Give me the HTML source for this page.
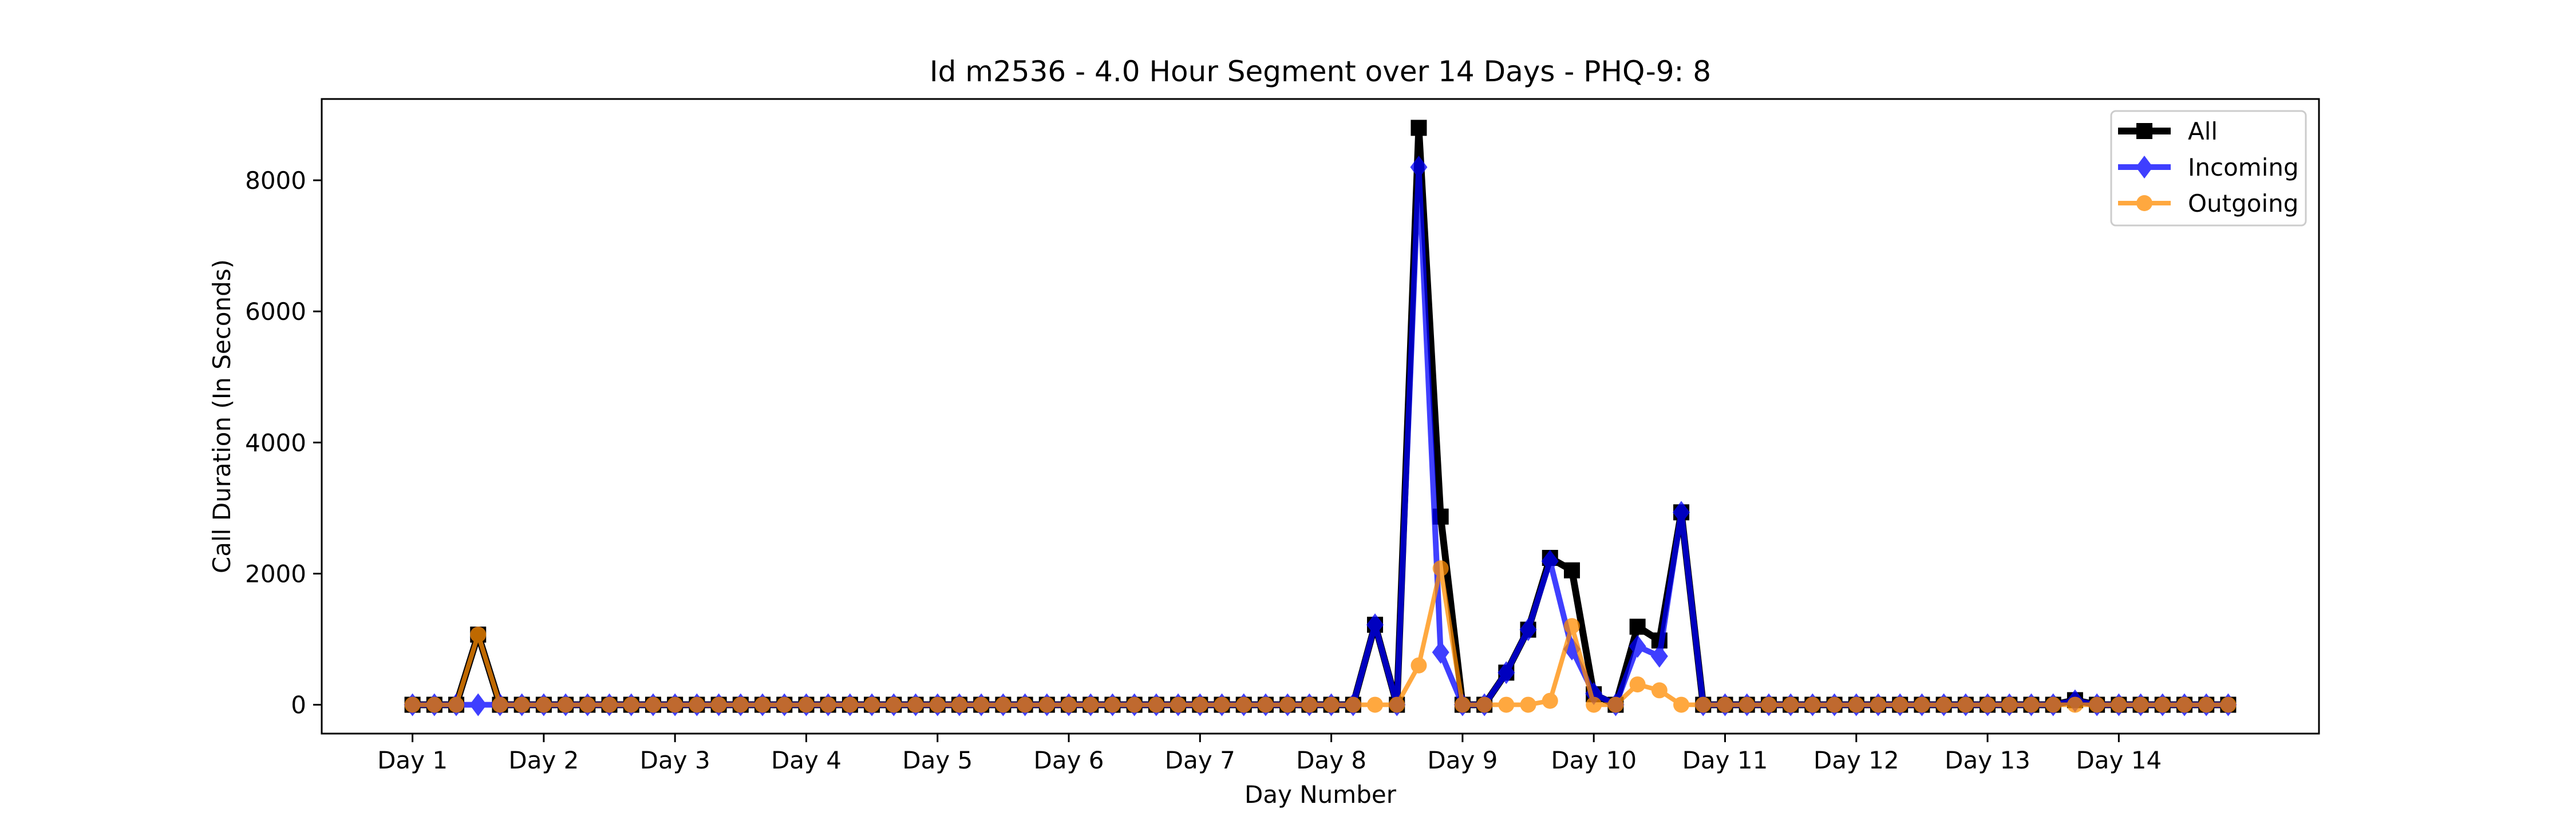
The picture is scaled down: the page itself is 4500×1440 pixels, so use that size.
<!DOCTYPE html>
<html><head><meta charset="utf-8"><style>
html,body{margin:0;padding:0;background:#fff;}
svg{display:block;font-family:"DejaVu Sans","Liberation Sans",sans-serif;}
</style></head><body>
<svg id="chart" width="4500" height="1440" viewBox="0 0 4500 1440" xmlns="http://www.w3.org/2000/svg">
<rect width="4500" height="1440" fill="#fff"/>
<g id="plot"></g>
<g id="axes"></g>
</svg>
<script>
const dayLabels = ["Day 1","Day 2","Day 3","Day 4","Day 5","Day 6","Day 7","Day 8","Day 9","Day 10","Day 11","Day 12","Day 13","Day 14"];
const yTicks = [0,2000,4000,6000,8000];
// 84 segments (6 per day); only non-zero values listed, rest are 0
const allSparse = {3:1070,44:1220,46:8800,47:2870,50:490,51:1145,52:2240,53:2050,54:160,56:1190,57:980,58:2935,76:70};
const inSparse  = {44:1220,46:8200,47:800,50:490,51:1145,52:2190,53:850,54:170,56:890,57:740,58:2935,76:60};
const outSparse = {3:1070,46:600,47:2080,52:60,53:1200,56:310,57:220};
const N = 84;
const allVals = Array.from({length:N},(_, i)=>allSparse[i]||0);
const inVals  = Array.from({length:N},(_, i)=>inSparse[i]||0);
const outVals = Array.from({length:N},(_, i)=>outSparse[i]||0);

const L=562,R=4051,T=173,B=1282;
const maxV=Math.max(...allVals,...inVals,...outVals);
const yMin=-0.05*maxV, yMax=1.05*maxV;
const xMin=-0.05*(N-1), xMax=(N-1)*1.05;
const X=i=>L+(i-xMin)/(xMax-xMin)*(R-L);
const Y=v=>B-(v-yMin)/(yMax-yMin)*(B-T);
const NS="http://www.w3.org/2000/svg";
function mk(tag,attrs,parent){const e=document.createElementNS(NS,tag);for(const k in attrs)e.setAttribute(k,attrs[k]);parent.appendChild(e);return e;}
const plot=document.getElementById('plot'), axes=document.getElementById('axes');

function series(vals,color,lw,alpha,marker,name){
  const g=mk('g',{opacity:alpha},plot);
  
  
  const pl=mk('polyline',{points:vals.map((v,i)=>X(i)+','+Y(v)).join(' '),fill:'none',stroke:color,'stroke-width':lw,'stroke-linejoin':'round'},g);
  
  
  vals.forEach((v,i)=>{
    const x=X(i),y=Y(v);let m;
    if(marker==='s') m=mk('rect',{x:x-14,y:y-14,width:28,height:28,fill:color},g);
    else if(marker==='d') m=mk('polygon',{points:`${x},${y-20} ${x+15},${y} ${x},${y+20} ${x-15},${y}`,fill:color},g);
    else m=mk('circle',{cx:x,cy:y,r:14,fill:color},g);
    
    
  });
}
series(allVals,'#000',12,1,'s','all');
series(inVals,'#0000ff',10,0.75,'d','incoming');
series(outVals,'#ff8c00',8,0.75,'o','outgoing');

// axes frame
const fr=mk('rect',{x:L,y:T,width:R-L,height:B-T,fill:'none',stroke:'#000','stroke-width':3},axes);


dayLabels.forEach((d,k)=>{
  const x=X(k*6);
  mk('line',{x1:x,y1:B,x2:x,y2:B+15,stroke:'#000','stroke-width':3},axes);
  const t=mk('text',{x:x,y:B+61,'font-size':42,'text-anchor':'middle'},axes);
  t.textContent=d;
  
  
});
yTicks.forEach(v=>{
  const y=Y(v);
  mk('line',{x1:L-15,y1:y,x2:L,y2:y,stroke:'#000','stroke-width':3},axes);
  const t=mk('text',{x:L-27,y:y+15,'font-size':42,'text-anchor':'end'},axes);
  t.textContent=v;
  
  
});
let t=mk('text',{x:(L+R)/2,y:142,'font-size':50,'text-anchor':'middle'},axes);
t.textContent='Id m2536 - 4.0 Hour Segment over 14 Days - PHQ-9: 8';


t=mk('text',{x:(L+R)/2,y:1403,'font-size':42,'text-anchor':'middle'},axes);
t.textContent='Day Number';


t=mk('text',{x:0,y:0,'font-size':42,'text-anchor':'middle',transform:`translate(402,${(T+B)/2}) rotate(-90)`},axes);
t.textContent='Call Duration (In Seconds)';



// legend
const lg=mk('g',{},axes);


mk('rect',{x:3688,y:194,width:340,height:200,rx:8,fill:'#fff','fill-opacity':0.8,stroke:'#ccc','stroke-width':3},lg);
const ents=[['All','#000',12,1,'s'],['Incoming','#0000ff',10,0.75,'d'],['Outgoing','#ff8c00',8,0.75,'o']];
ents.forEach((e,k)=>{
  const y=229+k*63;
  const g=mk('g',{opacity:e[3]},lg);
  
  
  mk('line',{x1:3700,y1:y,x2:3792,y2:y,stroke:e[1],'stroke-width':e[2]},g);
  const x=3746;
  if(e[4]==='s') mk('rect',{x:x-14,y:y-14,width:28,height:28,fill:e[1]},g);
  else if(e[4]==='d') mk('polygon',{points:`${x},${y-20} ${x+15},${y} ${x},${y+20} ${x-15},${y}`,fill:e[1]},g);
  else mk('circle',{cx:x,cy:y,r:14,fill:e[1]},g);
  const tx=mk('text',{x:3822,y:y+15,'font-size':42},lg);
  tx.textContent=e[0];
  
  
});
</script>
</body></html>
